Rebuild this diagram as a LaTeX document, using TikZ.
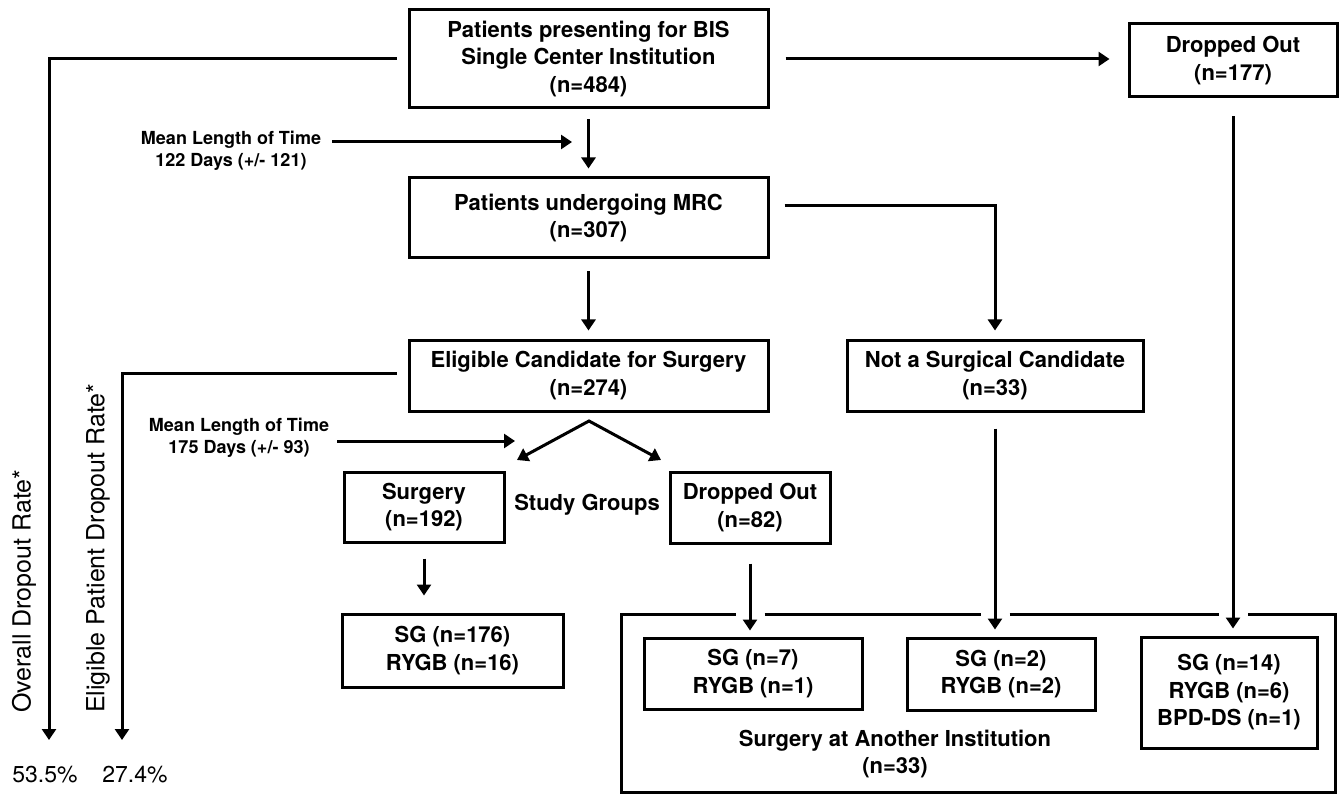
\documentclass[tikz,border=0pt]{standalone}
\usepackage{fontspec}
\setmainfont{TeX Gyre Heros}
\usetikzlibrary{arrows.meta,calc}

\begin{document}
\begin{tikzpicture}[x=1pt, y=-1pt,
    box/.style={draw, line width=3pt, inner sep=0pt, align=center, font=\fontsize{22}{27.5}\selectfont\bfseries},
    label/.style={inner sep=0pt, align=center, font=\fontsize{22}{27.5}\selectfont\bfseries},
    note/.style={inner sep=0pt, align=center, font=\fontsize{18}{22}\selectfont\bfseries},
    rate/.style={inner sep=0pt, font=\fontsize{23}{27}\selectfont},
    side/.style={inner sep=0pt, rotate=90, font=\fontsize{25}{29}\selectfont},
    link/.style={line width=3pt},
    arr/.style={line width=3pt, -{Triangle[length=11pt, width=14pt]}},
    fork/.style={line width=3pt, {Triangle[length=11pt, width=14pt]}-{Triangle[length=11pt, width=14pt]}}]
    \useasboundingbox (0,0) rectangle (1344,794);
    \node[box, minimum width=359pt, minimum height=98pt] (start) at (588.5,59) {Patients presenting for BIS\\Single Center Institution\\(n=484)};
    \node[box, minimum width=208pt, minimum height=73pt] (drop1) at (1233,60.5) {Dropped Out\\(n=177)};
    \node[box, minimum width=359pt, minimum height=80pt] (mrc) at (588.5,218) {Patients undergoing MRC\\(n=307)};
    \node[box, minimum width=359pt, minimum height=71pt] (elig) at (588.5,375.5) {Eligible Candidate for Surgery\\(n=274)};
    \node[box, minimum width=296pt, minimum height=71pt] (notsurg) at (995,375.5) {Not a Surgical Candidate\\(n=33)};
    \node[box, minimum width=160pt, minimum height=70pt] (surg) at (424,507) {Surgery\\(n=192)};
    \node[box, minimum width=160pt, minimum height=71pt] (drop2) at (750,507.5) {Dropped Out\\(n=82)};
    \node[label] (groups) at (587,505) {Study Groups};
    \node[box, minimum width=221pt, minimum height=73pt] (sg1) at (452.5,650.5) {SG (n=176)\\RYGB (n=16)};
    \node[inner sep=0pt, minimum width=713pt, minimum height=177pt] (other) at (978.5,703.5) {};
    \node[label] (othertxt) at (895,754) {Surgery at Another Institution\\(n=33)};
    \node[box, minimum width=218pt, minimum height=71pt] (sg7) at (753,673.5) {SG (n=7)\\RYGB (n=1)};
    \node[box, minimum width=188pt, minimum height=72pt] (sg2) at (1001,674) {SG (n=2)\\RYGB (n=2)};
    \node[box, minimum width=176pt, minimum height=111pt] (sg14) at (1229,692.5) {SG (n=14)\\RYGB (n=6)\\BPD-DS (n=1)};
    \node[note] (mean1) at (231,151) {Mean Length of Time\\122 Days (+/- 121)};
    \node[note] (mean2) at (239,438) {Mean Length of Time\\175 Days (+/- 93)};
    \node[side, anchor=west] (ovtxt) at (24,713) {Overall Dropout Rate*};
    \node[side, anchor=west] (eltxt) at (98,713) {Eligible Patient Dropout Rate*};
    \node[rate] (ovrate) at (45,775) {53.5\%};
    \node[rate] (elrate) at (135,775) {27.4\%};
    \coordinate (ovend) at (49,740);
    \coordinate (elend) at (122,740);
    \coordinate (m1) at (572,142);
    \coordinate (m2) at (515,441);
    \coordinate (apex) at (589,421);
    \coordinate (forkl) at (517,460);
    \coordinate (forkr) at (661,460);
    \coordinate (gapl1) at ($(other.north -| drop2.south)+(-14.5,0)$);
    \coordinate (gapr1) at ($(other.north -| drop2.south)+(14.5,0)$);
    \coordinate (gapl2) at ($(other.north -| notsurg.south)+(-14.5,0)$);
    \coordinate (gapr2) at ($(other.north -| notsurg.south)+(14.5,0)$);
    \coordinate (gapl3) at ($(other.north -| drop1.south)+(-14.5,0)$);
    \coordinate (gapr3) at ($(other.north -| drop1.south)+(14.5,0)$);
    \draw[link] (gapl1) -| (other.south west) -- (other.south east) |- (gapr3);
    \draw[link] (gapr1) -- (gapl2);
    \draw[link] (gapr2) -- (gapl3);
    \draw[arr, shorten <=10pt, shorten >=8pt] (start) -- (mrc);
    \draw[arr, shorten <=12pt, shorten >=8pt] (mrc) -- (elig);
    \draw[arr, shorten <=16pt, shorten >=18pt] (start.east) -- (start.east -| drop1.west);
    \draw[arr, shorten <=15pt, shorten >=8pt] ([yshift=12pt]mrc.east) -| (notsurg.north);
    \draw[arr, shorten <=11pt] (start.west) -| (ovend);
    \draw[arr, shorten <=11pt] ([yshift=2pt]elig.west) -| (elend);
    \draw[arr, shorten <=11pt] (mean1.east |- m1) -- (m1);
    \draw[arr, shorten <=8pt] (mean2.east |- m2) -- (m2);
    \draw[fork] (forkl) -- (apex) -- (forkr);
    \draw[arr, shorten <=15pt, shorten >=17pt] (surg.south) -- (surg.south |- sg1.north);
    \draw[arr, shorten <=19pt, shorten >=6pt] (drop2.south) -- (drop2.south |- sg7.north);
    \draw[arr, shorten <=16pt, shorten >=7pt] (notsurg.south) -- (notsurg.south |- sg2.north);
    \draw[arr, shorten <=18pt, shorten >=7pt] (drop1.south) -- (drop1.south |- sg14.north);
\end{tikzpicture}
\end{document}
